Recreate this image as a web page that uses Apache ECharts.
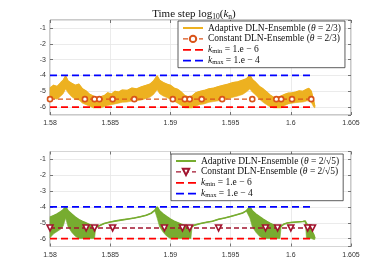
<!DOCTYPE html>
<html><head><meta charset="utf-8">
<script src="https://cdn.jsdelivr.net/npm/echarts@6/dist/echarts.min.js"></script>
<style>html,body{margin:0;padding:0;background:#fff}#c{width:388px;height:277px}</style>
</head><body><div id="c"></div>
<script>
// ---------- DATA ----------
// Top panel: adaptive (theta = 2/3), envelope of the oscillating log10(k_n)
const timeA = [1.5800,1.5803,1.5806,1.5809,1.5811,1.5813,1.5815,1.5818,1.5821,1.5824,1.5827,1.5830,1.5833,1.5836,1.5839,1.5842,1.5845,1.5848,1.5851,1.5854,1.5857,1.5860,1.5864,1.5868,1.5872,1.5876,1.5880,1.5883,1.5886,1.5889,1.5891,1.5894,1.5897,1.5900,1.5903,1.5906,1.5909,1.5912,1.5915,1.5918,1.5921,1.5924,1.5928,1.5932,1.5936,1.5940,1.5944,1.5948,1.5952,1.5956,1.5960,1.5963,1.5966,1.5968,1.5971,1.5974,1.5977,1.5980,1.5983,1.5986,1.5989,1.5992,1.5995,1.5998,1.6001,1.6004,1.6007,1.6010,1.6013,1.6015,1.6017,1.6019,1.6020];
const upperA = [-4.80,-4.62,-4.70,-4.45,-4.30,-4.03,-4.35,-4.50,-4.62,-4.55,-4.85,-4.98,-5.20,-5.30,-5.45,-5.35,-5.28,-5.10,-5.18,-5.00,-5.05,-4.92,-4.95,-4.80,-4.85,-4.72,-4.62,-4.55,-4.35,-4.03,-4.30,-4.45,-4.55,-4.62,-4.80,-4.88,-5.05,-5.28,-5.35,-5.30,-5.10,-5.02,-4.95,-4.85,-4.80,-4.70,-4.62,-4.55,-4.45,-4.40,-4.30,-4.22,-3.98,-4.25,-4.45,-4.70,-4.85,-5.05,-5.25,-5.40,-5.38,-5.30,-5.20,-5.12,-5.10,-5.05,-4.98,-5.00,-4.88,-4.82,-5.00,-5.60,-5.95];
const lowerA = [-5.60,-5.45,-5.50,-5.30,-5.15,-4.85,-5.10,-5.35,-5.50,-5.55,-5.75,-5.85,-5.95,-6.05,-6.05,-6.05,-5.98,-5.90,-5.85,-5.80,-5.75,-5.70,-5.68,-5.62,-5.60,-5.55,-5.45,-5.38,-5.20,-4.90,-5.15,-5.30,-5.40,-5.50,-5.62,-5.75,-5.90,-6.05,-6.05,-6.05,-5.95,-5.85,-5.80,-5.70,-5.65,-5.60,-5.55,-5.48,-5.38,-5.30,-5.20,-5.05,-4.85,-5.05,-5.25,-5.50,-5.70,-5.85,-6.00,-6.05,-6.05,-6.05,-5.90,-5.80,-5.75,-5.72,-5.70,-5.68,-5.62,-5.60,-5.70,-6.00,-6.05];
// Top panel: constant-step markers
const constTimeA = [1.5800,1.5829,1.5837,1.5841,1.5852,1.5870,1.5902,1.5912,1.5916,1.5926,1.5943,1.5968,1.5988,1.5992,1.6001,1.6017];
const constLogA = -5.5;

// Bottom panel: adaptive (theta = 2/sqrt5)
const timeB = [1.5800,1.5803,1.5806,1.5809,1.5811,1.5813,1.5815,1.5818,1.5821,1.5824,1.5827,1.5830,1.5833,1.5836,1.5837,1.5838,1.5840,1.5845,1.5850,1.5855,1.5860,1.5865,1.5870,1.5875,1.5880,1.5884,1.5887,1.5889,1.5891,1.5894,1.5897,1.5900,1.5903,1.5906,1.5909,1.5912,1.5915,1.5917,1.5918,1.5920,1.5925,1.5930,1.5935,1.5940,1.5945,1.5950,1.5955,1.5960,1.5963,1.5966,1.5968,1.5971,1.5974,1.5977,1.5980,1.5983,1.5986,1.5989,1.5991,1.5992,1.5994,1.5997,1.6000,1.6005,1.6010,1.6012,1.6013,1.6015,1.6017,1.6019,1.6020];
const upperB = [-4.65,-4.55,-4.45,-4.30,-4.18,-4.00,-4.25,-4.45,-4.65,-4.80,-4.92,-5.02,-5.12,-5.22,-5.30,-5.30,-5.22,-5.05,-4.95,-4.88,-4.82,-4.76,-4.70,-4.62,-4.52,-4.40,-4.22,-4.00,-4.25,-4.45,-4.62,-4.78,-4.90,-5.00,-5.10,-5.18,-5.25,-5.28,-5.25,-5.15,-5.05,-4.97,-4.90,-4.78,-4.70,-4.60,-4.50,-4.38,-4.25,-4.00,-4.25,-4.45,-4.62,-4.78,-4.92,-5.05,-5.15,-5.22,-5.28,-5.25,-5.10,-5.02,-4.98,-4.95,-4.92,-4.90,-5.05,-5.25,-5.45,-5.75,-5.98];
const lowerB = [-5.95,-5.70,-5.55,-5.40,-5.20,-4.70,-5.25,-5.60,-5.85,-6.00,-6.00,-6.00,-6.00,-6.00,-6.00,-5.30,-5.22,-5.05,-4.95,-4.88,-4.82,-4.76,-4.70,-4.62,-4.52,-4.40,-4.22,-4.70,-5.25,-5.60,-5.85,-6.00,-6.00,-6.00,-6.00,-6.00,-6.00,-6.00,-5.25,-5.15,-5.05,-4.97,-4.90,-4.78,-4.70,-4.60,-4.50,-4.38,-4.25,-4.70,-5.25,-5.60,-5.85,-6.00,-6.00,-6.00,-6.00,-6.00,-6.00,-5.25,-5.10,-5.02,-4.98,-4.95,-4.92,-4.90,-5.95,-6.00,-6.00,-6.05,-6.05];
const constTimeB = [1.5800,1.5830,1.5837,1.5852,1.5895,1.5910,1.5916,1.5940,1.5979,1.5989,1.6000,1.6014,1.6018];
const constLogB = -5.33;

// Reference bounds
const boundTime = [1.5800, 1.6017];
const kMinLog = -6;
const kMaxLog = -4;

// ---------- CHART ----------
const chart = echarts.init(document.getElementById('c'), null, {renderer:'canvas'});
const SERIF = 'Liberation Serif';
const SANS = 'Liberation Sans';
const COL = {yellow:'#EDB120', orange:'#D95319', green:'#77AC30', dred:'#A2142F', red:'#FF0000', blue:'#0000FF'};

const labels = {
  a1:'Adaptive DLN-Ensemble ({i|θ} = 2/3)',
  c1:'Constant DLN-Ensemble ({i|θ} = 2/3)',
  a2:'Adaptive DLN-Ensemble ({i|θ} = 2/√5)',
  c2:'Constant DLN-Ensemble ({i|θ} = 2/√5)',
  kmin1:'{i|k}{s|min} = 1.e − 6', kmax1:'{i|k}{s|max} = 1.e − 4',
  kmin2:'{i|k}{s|min} = 1.e − 6', kmax2:'{i|k}{s|max} = 1.e − 4'
};
const zip = (xs, ys) => xs.map((x,i)=>[x, ys[i]]);
const flat = (xs, v) => xs.map(x=>[x, v]);

function band(times, up, lo, color, xi, yi){
  return {
    type:'custom', xAxisIndex:xi, yAxisIndex:yi, silent:true, z:1,
    data: times.map((t,i)=>[t, up[i], lo[i]]),
    renderItem: function(params, api){
      if (params.dataIndex !== 0) return null;
      const pts = [];
      for (let i=0;i<times.length;i++) pts.push(api.coord([times[i], up[i]]));
      for (let i=times.length-1;i>=0;i--) pts.push(api.coord([times[i], lo[i]]));
      return {type:'polygon', shape:{points:pts}, style:{fill:color, stroke:color, lineWidth:0.6}};
    }
  };
}

const grids = [
  {left:50, top:20, width:301, height:95},
  {left:50, top:151.5, width:301, height:95}
];
const gridStyle = {show:true, borderColor:'#7a7a7a', borderWidth:0.8, backgroundColor:'#fff'};

function xAx(gi, bottom){
  return {
    type:'value', gridIndex:gi, min:1.58, max:1.605, interval:0.005,
    position: bottom ? 'bottom' : 'top',
    axisLine:{show:false},
    axisTick:{show:true, inside:true, length:3, lineStyle:{color:'#555', width:0.8}},
    axisLabel:{show:bottom, fontFamily:SANS, fontSize:7, color:'#333', margin:5,
      formatter: v => String(Math.round(v*1000)/1000)},
    splitLine:{show:bottom, lineStyle:{color:'#e6e6e6', width:0.8}}
  };
}
function yAx(gi, left){
  return {
    type:'value', gridIndex:gi, min:-6.5, max:-0.5,
    position: left ? 'left' : 'right',
    axisLine:{show:false},
    axisTick:{show:true, inside:true, length:3, lineStyle:{color:'#555', width:0.8}},
    axisLabel:{show:left, fontFamily:SANS, fontSize:7, color:'#333', margin:4, showMinLabel:false, showMaxLabel:false,
      formatter: v => (Math.abs(v - Math.round(v))<1e-9 ? String(Math.round(v)) : '')},
    splitLine:{show:left, lineStyle:{color:'#e6e6e6', width:0.8}}
  };
}

function panelSeries(p){
  const xi = p.gi*2, yi = p.gi*2;
  return [
    band(p.t, p.up, p.lo, p.acol, xi, yi),
    {name:p.aName, type:'line', xAxisIndex:xi, yAxisIndex:yi, data:zip(p.t, p.up), symbol:'none', z:2,
      lineStyle:{color:p.acol, width:p.aw}, itemStyle:{color:p.acol}, animation:false},
    {name:p.cName, type:'line', xAxisIndex:xi, yAxisIndex:yi, data:flat(p.ct, p.cl), z:3,
      symbol:p.sym, symbolSize:p.symSize, symbolRotate:p.rot, showSymbol:true,
      lineStyle:{color:p.ccol, width:1.4, type:[5,3]},
      itemStyle:{color:'#fff', borderColor:p.ccol, borderWidth:1.6}, animation:false},
    {name:p.kminName, type:'line', xAxisIndex:xi, yAxisIndex:yi, data:flat(boundTime, kMinLog), symbol:'none', z:4,
      lineStyle:{color:COL.red, width:1.8, type:[7,4]}, itemStyle:{color:COL.red}, animation:false},
    {name:p.kmaxName, type:'line', xAxisIndex:xi, yAxisIndex:yi, data:flat(boundTime, kMaxLog), symbol:'none', z:4,
      lineStyle:{color:COL.blue, width:1.8, type:[7,4]}, itemStyle:{color:COL.blue}, animation:false}
  ];
}

const legendText = {
  fontFamily:SERIF, fontSize:9.5, color:'#111', lineHeight:10,
  rich:{
    i:{fontFamily:SERIF, fontStyle:'italic', fontSize:9.5, lineHeight:10, color:'#111'},
    s:{fontFamily:SERIF, fontSize:6.5, lineHeight:5, verticalAlign:'bottom', color:'#111'}
  }
};
const noSym = {color:'rgba(0,0,0,0)', borderColor:'rgba(0,0,0,0)', borderWidth:0};
function legend(left, top, n, ccol){
  return {
    orient:'vertical', left:left, top:top,
    data:[
      {name:n[0], itemStyle:noSym},
      {name:n[1], lineStyle:{type:[5,3], width:1.4, color:ccol}},
      {name:n[2], itemStyle:noSym, lineStyle:{type:[8,4], width:1.8, color:COL.red}},
      {name:n[3], itemStyle:noSym, lineStyle:{type:[8,4], width:1.8, color:COL.blue}}
    ],
    backgroundColor:'#fff', borderColor:'#333', borderWidth:0.8, borderRadius:0,
    padding:[2,4,2,4], itemWidth:20, itemHeight:8, itemGap:0.9,
    selectedMode:false, textStyle:legendText, formatter: nm => labels[nm]
  };
}

const option = {
  animation:false,
  backgroundColor:'#fff',
  title:{
    text:'Time step log{s|10}({i|k}{s|n})', left:'center', top:3,
    textStyle:{fontFamily:SERIF, fontSize:11, fontWeight:'normal', color:'#111', lineHeight:13,
      rich:{i:{fontFamily:SERIF, fontStyle:'italic', fontSize:11, lineHeight:13, color:'#111'},
            s:{fontFamily:SERIF, fontSize:7.5, lineHeight:7, verticalAlign:'bottom', color:'#111'}}}
  },
  grid: grids.map(g => Object.assign({}, g, gridStyle)),
  xAxis:[xAx(0,true), xAx(0,false), xAx(1,true), xAx(1,false)],
  yAxis:[yAx(0,true), yAx(0,false), yAx(1,true), yAx(1,false)],
  legend:[
    legend(178, 21, ['a1','c1','kmin1','kmax1'], COL.orange),
    legend(171, 154, ['a2','c2','kmin2','kmax2'], COL.dred)
  ],
  series:[].concat(
    panelSeries({gi:0, t:timeA, up:upperA, lo:lowerA, acol:COL.yellow, aw:1.2, aName:'a1', cName:'c1',
      ct:constTimeA, cl:constLogA, ccol:COL.orange, sym:'circle', symSize:5, rot:0, kminName:'kmin1', kmaxName:'kmax1'}),
    panelSeries({gi:1, t:timeB, up:upperB, lo:lowerB, acol:COL.green, aw:1.6, aName:'a2', cName:'c2',
      ct:constTimeB, cl:constLogB, ccol:COL.dred, sym:'triangle', symSize:6, rot:180, kminName:'kmin2', kmaxName:'kmax2'})
  )
};
chart.setOption(option);
</script></body></html>
